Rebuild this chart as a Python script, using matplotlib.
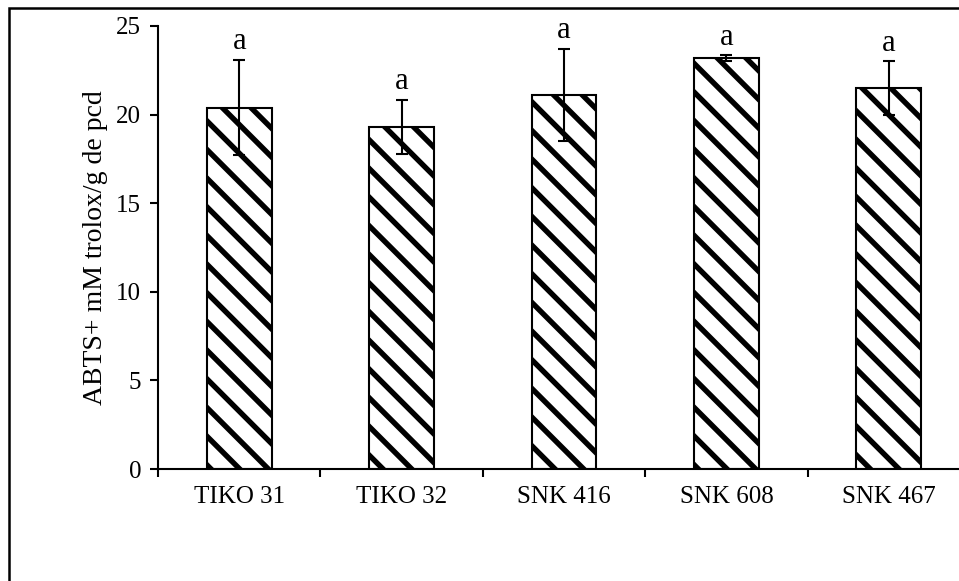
import matplotlib
matplotlib.use('Agg')
import matplotlib.pyplot as plt
from matplotlib.patches import Rectangle
import numpy as np

# data
cultivars = ["TIKO 31", "TIKO 32", "SNK 416", "SNK 608", "SNK 467"]
abts_mean = [20.4, 19.3, 21.1, 23.2, 21.5]
abts_err = [2.7, 1.55, 2.6, 0.15, 1.5]
letters = ["a", "a", "a", "a", "a"]

# render at a lower dpi so the hatch period comes out near 15 px;
# every size given in points is scaled by S to keep pixel sizes
DPI = 86
S = 100 / DPI


def main():
    plt.rcParams['font.family'] = ['Liberation Serif', 'DejaVu Serif']
    plt.rcParams['hatch.linewidth'] = 3.9 * S
    plt.rcParams['hatch.color'] = 'black'

    fig = plt.figure(figsize=(959 / DPI, 581 / DPI), dpi=DPI)
    # axes: left spine at x=158px, baseline at y=469px, top (25) at y=26px
    ax = fig.add_axes([158 / 959, 112 / 581, 812 / 959, 443 / 581])

    x = np.arange(len(cultivars))
    ax.bar(x, abts_mean, width=0.4, color='white', edgecolor='black',
           linewidth=1.5 * S, hatch='\\', zorder=2)
    ax.errorbar(x, abts_mean, yerr=abts_err, fmt='none', ecolor='black',
                elinewidth=1.5 * S, capsize=4 * S, capthick=1.5 * S, zorder=3)

    for xi, m, e, lab in zip(x, abts_mean, abts_err, letters):
        ax.text(xi, m + e + 0.6, lab, ha='center', va='baseline',
                fontsize=22 * S)

    ax.set_xlim(-0.5, len(cultivars) - 0.5)
    ax.set_ylim(0, 25)
    ax.set_yticks([0, 5, 10, 15, 20, 25])
    ax.set_xticks(x)
    ax.set_xticklabels(cultivars)
    ax.set_xticks(np.arange(len(cultivars) + 1) - 0.5, minor=True)
    ax.tick_params(axis='x', which='major', length=0, pad=12 * S,
                   labelsize=18 * S)
    ax.tick_params(axis='x', which='minor', length=6 * S, width=1.5 * S,
                   direction='out')
    ax.tick_params(axis='y', length=6 * S, width=1.5 * S, direction='out',
                   labelsize=18 * S, pad=6 * S)

    for side in ['top', 'right']:
        ax.spines[side].set_visible(False)
    for side in ['left', 'bottom']:
        ax.spines[side].set_linewidth(1.5 * S)

    ax.set_ylabel("ABTS+ mM trolox/g de pcd", fontsize=20 * S,
                  labelpad=6 * S)

    # outer chart frame (cut off on the right and at the bottom)
    frame = Rectangle((9 / 959, -0.2), 1.2, 1.2 - 8 / 581,
                      transform=fig.transFigure, fill=False,
                      edgecolor='black', linewidth=1.8 * S)
    fig.patches.append(frame)

    fig.savefig("out.png", dpi=DPI)
    plt.close(fig)


if __name__ == "__main__":
    main()
